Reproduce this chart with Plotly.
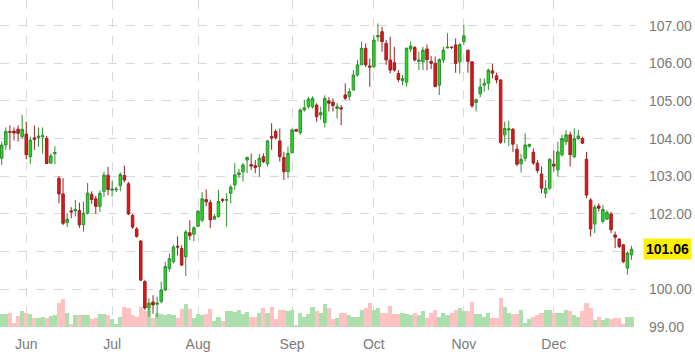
import plotly.graph_objects as go

# ---- data ----
opens = [103.48,103.83,104.19,104.2,104.25,104.05,104.12,103.52,104.02,104.03,104.05,104.01,103.35,103.6,
         102.95,102.53,101.77,102.08,102.08,102.09,101.71,102.02,102.52,102.4,102.2,102.6,103.03,102.63,102.64,
         102.75,103.02,102.8,101.96,101.6,101.28,100.2,99.5,99.66,99.6,99.67,99.98,100.55,100.73,101.14,101.08,
         100.86,101.5,101.46,101.67,101.83,102.38,102.3,101.86,101.93,102.38,102.36,102.55,102.77,103.04,103.12,
         103.43,103.31,103.28,103.26,103.52,103.33,104.06,104.19,103.94,103.5,103.12,103.63,104.24,104.16,104.76,
         104.85,104.85,104.89,104.63,104.43,105.0,104.97,104.8,104.82,105.16,105.12,105.29,105.69,105.96,106.4,
         105.93,105.91,106.7,106.84,106.53,106.09,106.02,105.73,105.54,105.5,106.38,106.42,106.05,106.04,106.38,
         106.05,106.0,105.42,106.09,106.41,106.43,106.49,106.04,106.58,106.35,106.04,104.96,105.19,105.42,105.47,
         105.8,105.67,105.56,104.1,104.23,104.25,103.72,103.33,103.48,103.8,103.64,103.35,103.06,102.55,102.68,
         103.32,103.17,103.57,103.92,104.1,103.52,104.0,104.0,103.45,102.37,101.73,102.21,101.8,101.86,102.0,
         101.44,101.33,101.18,100.56,100.91]
highs = [103.92,104.3,104.35,104.3,104.35,104.63,104.45,104.05,104.35,104.3,104.3,104.07,103.6,103.8,
         103.0,102.95,102.02,102.18,102.37,102.3,102.33,102.82,102.6,102.48,102.62,103.12,103.25,102.88,102.72,
         103.1,103.28,102.85,102.0,101.65,101.3,100.24,99.76,99.84,99.8,100.2,100.73,100.95,101.18,101.4,101.17,
         101.57,101.83,101.67,102.1,102.58,102.65,102.38,102.0,102.64,102.42,102.55,102.77,103.35,103.2,103.35,
         103.52,103.6,103.43,103.6,103.61,103.96,104.41,104.25,104.27,103.65,103.79,104.27,104.26,104.8,105.03,
         105.11,105.12,104.94,104.85,105.15,105.1,105.07,104.94,104.89,105.47,105.34,105.82,106.09,106.58,106.53,
         106.13,106.75,107.06,106.97,106.62,106.71,106.44,105.82,105.69,106.42,106.58,106.46,106.31,106.44,106.5,
         106.2,106.18,106.13,106.44,106.8,106.45,106.66,106.53,107.02,106.36,106.06,105.07,105.6,105.6,105.86,
         105.98,105.75,105.57,104.45,104.47,104.28,103.85,103.6,104.14,103.87,103.74,103.43,103.26,102.9,103.48,
         103.68,103.92,104.1,104.23,104.19,104.27,104.23,104.05,103.65,102.42,102.24,102.28,102.24,102.1,102.06,
         101.53,101.35,101.2,101.0,101.15]
lows = [103.3,103.7,103.7,103.95,103.92,104.0,103.45,103.33,103.7,103.78,103.6,103.33,103.33,103.32,
        102.28,101.7,101.65,101.88,101.93,101.63,101.53,101.98,102.27,102.0,102.05,102.45,102.5,102.46,102.58,
        102.6,102.84,101.97,101.6,101.37,100.22,99.45,99.27,99.35,99.25,99.62,99.95,100.46,100.68,100.9,100.62,
        100.35,101.3,101.28,101.65,101.78,102.2,101.62,101.84,101.9,102.3,101.66,102.28,102.64,102.95,102.86,
        103.08,103.17,103.08,102.99,103.35,103.26,103.7,103.98,103.39,102.9,102.95,103.6,104.18,104.1,104.72,
        104.8,104.8,104.45,104.5,104.3,104.72,104.72,104.54,104.36,105.03,105.03,105.29,105.65,105.96,105.9,
        105.38,105.87,106.58,106.31,105.96,105.73,105.78,105.5,105.42,105.38,106.3,106.05,105.82,105.82,105.82,
        105.85,105.38,105.16,106.0,106.4,106.38,105.75,105.73,106.49,105.75,104.82,104.72,105.1,105.25,105.29,
        105.6,105.47,103.86,103.88,103.8,103.65,103.27,103.1,103.39,103.76,103.3,103.08,102.55,102.42,102.64,
        103.12,102.99,103.52,103.83,103.26,103.48,103.96,103.86,102.42,101.4,101.49,102.06,101.75,101.84,101.49,
        101.09,101.09,100.69,100.38,100.78]
closes = [103.83,104.19,104.17,104.15,104.14,104.25,103.57,103.96,103.98,104.07,104.08,103.34,103.54,103.63,
          102.53,101.75,101.86,102.05,102.12,101.71,102.02,102.55,102.38,102.2,102.55,103.03,102.65,102.66,102.66,
          103.05,102.9,102.0,101.65,101.4,100.24,99.5,99.63,99.58,99.63,99.98,100.6,100.81,101.12,101.12,100.64,
          101.52,101.42,101.63,102.07,102.4,102.32,101.84,101.93,102.33,102.36,102.38,102.71,103.04,103.09,103.3,
          103.5,103.27,103.23,103.48,103.39,103.94,104.02,104.03,103.52,103.12,103.61,104.23,104.2,104.76,104.82,
          105.05,105.07,104.58,104.69,105.07,104.94,104.88,104.85,104.79,105.07,105.25,105.69,105.96,106.4,105.96,
          105.9,106.62,106.74,106.58,106.09,105.82,105.82,105.57,105.6,106.4,106.46,106.09,106.09,106.35,106.1,
          106.0,105.38,106.1,106.35,106.43,106.42,106.0,106.5,106.73,106.05,104.87,105.03,105.37,105.47,105.82,
          105.74,105.56,103.9,104.27,104.26,103.85,103.32,103.45,103.83,103.84,103.35,103.15,102.68,102.68,103.45,
          103.27,103.65,104.0,104.1,103.57,104.0,104.07,103.88,102.5,101.6,102.18,102.15,102.12,102.04,101.58,
          101.38,101.13,100.73,100.96,101.06]
volume = [15200,15200,17200,5200,13200,19200,17200,15200,11200,11200,12000,11200,13200,14000,
          29200,33200,17200,3200,14000,14000,14000,14000,9200,11200,15200,15200,14400,9200,3200,
          12400,24000,22400,14400,12400,24000,19200,21200,11200,17200,15200,14400,16000,14400,11200,21200,
          27200,21200,11200,15200,14400,16000,21200,7200,12400,7200,19200,19200,18400,20000,16000,
          18400,12400,12400,17200,22400,17200,24000,9200,20400,20400,19200,20000,2400,17200,12400,
          15200,24000,19200,16400,27200,22400,9200,11200,17200,17200,14400,12400,12400,20400,22400,
          28400,20000,23200,17200,17200,25200,15200,15200,17200,15200,14400,17200,14400,19200,11200,
          17200,20000,12400,17200,14400,17200,20000,23200,19200,19200,30000,15200,16000,12400,17200,
          11200,11200,35200,24000,17200,16000,16000,20000,5200,9200,12400,14400,17200,20000,20000,
          17200,17200,17200,20000,19200,14400,12400,19200,28400,22400,8000,12400,8000,11200,9200,
          10400,10400,4000,12400,12400]

month_pos = [6, 27, 48, 71, 91, 113, 135]
month_labels = ["Jun", "Jul", "Aug", "Sep", "Oct", "Nov", "Dec"]
price_ticks = [99, 100, 101, 102, 103, 104, 105, 106, 107]
last_price = closes[-1]

x = list(range(len(closes)))
vol_colors = ["#abdfab" if c >= o else "#ffc2c2" for o, c in zip(opens, closes)]
# the last-price tag covers the tick label at its level
price_text = ["" if abs(v - last_price) < 0.3 else f"{v:.2f}" for v in price_ticks]

fig = go.Figure()
fig.add_trace(go.Bar(x=x, y=volume, marker=dict(color=vol_colors, line=dict(width=0)),
                     yaxis="y", hoverinfo="skip", showlegend=False))
fig.add_trace(go.Candlestick(
    x=x, open=opens, high=highs, low=lows, close=closes, yaxis="y2",
    increasing=dict(line=dict(color="#2f8f2f", width=1), fillcolor="#22dd22"),
    decreasing=dict(line=dict(color="#9c2222", width=1), fillcolor="#e01515"),
    showlegend=False))

font = "Liberation Sans, Arial, sans-serif"
fig.update_layout(
    width=695, height=358,
    margin=dict(l=0, r=59, t=0, b=31),
    paper_bgcolor="white", plot_bgcolor="white",
    bargap=0, boxgap=0.12,
    showlegend=False,
    xaxis=dict(range=[-0.42, 155.1], tickvals=month_pos, ticktext=month_labels,
               showgrid=True, gridcolor="#d8d8d8", griddash="dash", gridwidth=1,
               zeroline=False, showline=False, ticks="", ticklabelstandoff=7,
               tickfont=dict(family=font, size=14, color="#7a7a7a"),
               rangeslider=dict(visible=False)),
    yaxis=dict(range=[0, 392400], visible=False, showgrid=False, zeroline=False),
    yaxis2=dict(range=[98.995, 107.683], overlaying="y", side="right",
                tickvals=price_ticks, ticktext=price_text,
                showgrid=True, gridcolor="#d8d8d8", griddash="dash", gridwidth=1,
                zeroline=False, showline=False, ticks="", ticklabelstandoff=12,
                tickfont=dict(family=font, size=14, color="#7a7a7a")),
)
fig.add_annotation(xref="paper", yref="y2", x=1, y=last_price, xanchor="left", yanchor="middle",
                   xshift=7, text=f"<b>{last_price:.2f}</b>", showarrow=False,
                   bgcolor="#fdf000", borderpad=2,
                   font=dict(family=font, size=14, color="black"))

fig.write_html("out.html")
